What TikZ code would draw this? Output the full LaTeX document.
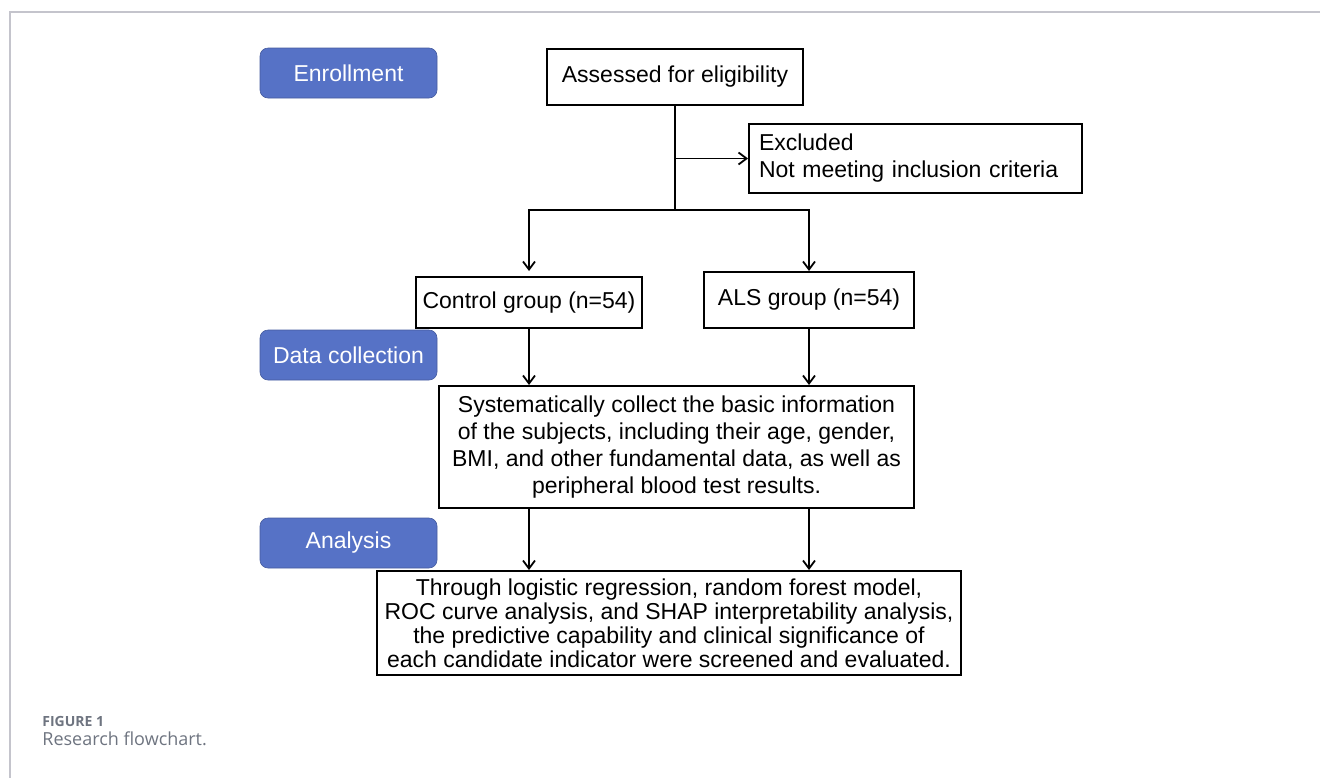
\documentclass[tikz,border=0pt]{standalone}
\usepackage{fontspec}
\setmainfont{Liberation Sans}
\newfontfamily\capfont{Open Sans}
\usetikzlibrary{arrows.meta}
\definecolor{stageblue}{RGB}{86,114,198}
\definecolor{framegray}{RGB}{196,196,204}
\definecolor{capgray}{RGB}{110,116,128}
\begin{document}
\begin{tikzpicture}[x=0.5pt,y=-0.5pt,
		font=\fontsize{11.5pt}{13.5pt}\selectfont,
		stage/.style={fill=stageblue,draw=stageblue!80!black,line width=0.3pt,rounded corners=4pt,text=white,minimum width=88.5pt,minimum height=25pt,inner sep=0pt},
		box/.style={draw,line width=1pt,align=center,inner sep=0pt},
		arr/.style={line width=0.9pt,-{Straight Barb[length=4pt,width=6pt]}},
		line/.style={line width=0.9pt}]
	\useasboundingbox (0,0) rectangle (1320,778);
		\draw[framegray,line width=1pt] (1320,12)--(9.5,12)--(9.5,778);
	% stages on the left
		\node[stage] (enrol) at (348.5,73) {Enrollment};
		\node[stage] (collect) at (348.5,355) {Data collection};
		\node[stage] (analysis) at (348.5,543) {Analysis};
	% flow boxes
		\node[box,minimum width=128pt,minimum height=28pt] (assess) at (675,77) {Assessed for eligibility};
		\node[box,align=left,text width=156.5pt,minimum height=34.5pt,inner xsep=5pt] (excl) at (915.5,158.5) {Excluded\\Not meeting inclusion criteria};
		\node[box,minimum width=113pt,minimum height=25.5pt] (ctrl) at (529,302.5) {Control group (n=54)};
		\node[box,minimum width=105pt,minimum height=28pt] (als) at (809,300) {ALS group (n=54)};
		\node[box,minimum width=237.5pt,minimum height=61pt] (data) at (676.5,447) {Systematically collect the basic information\\of the subjects, including their age, gender,\\BMI, and other fundamental data, as well as\\peripheral blood test results.};
		\node[box,minimum width=292pt,minimum height=52pt,font=\fontsize{11.5pt}{12pt}\selectfont] (model) at (669,623) {Through logistic regression, random forest model,\\ROC curve analysis, and SHAP interpretability analysis,\\the predictive capability and clinical significance of\\each candidate indicator were screened and evaluated.};
	% connectors
		\coordinate (split) at (675,210);
		\coordinate (branch) at (675,158.5);
			\draw[line] (assess.south)--(split);
			\draw[arr] (branch)--(excl.west);
			\draw[arr] (split)-|([yshift=2.5pt]ctrl.north);
			\draw[arr] (split)-|(als.north);
			\draw[arr] (ctrl.south)--(ctrl.south|-data.north);
			\draw[arr] (als.south)--(als.south|-data.north);
			\draw[arr] (data.south-|ctrl.south)--(model.north-|ctrl.south);
			\draw[arr] (data.south-|als.south)--(model.north-|als.south);
	% caption
		\node[anchor=west,inner sep=0pt,text=capgray,font=\capfont\bfseries\fontsize{7pt}{8pt}\selectfont] (fig) at (42,721) {FIGURE 1};
		\node[anchor=base west,inner sep=0pt,text=capgray,font=\capfont\fontsize{9pt}{10pt}\selectfont] (title) at (42,745) {Research flowchart.};
\end{tikzpicture}
\end{document}
